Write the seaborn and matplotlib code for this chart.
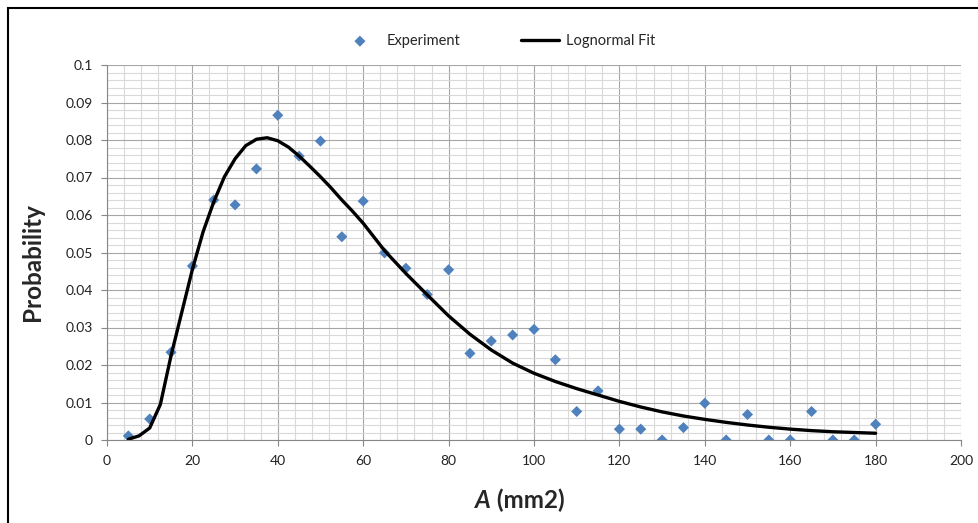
import numpy as np
import pandas as pd
import matplotlib.pyplot as plt
import seaborn as sns
from matplotlib.ticker import MultipleLocator
from matplotlib.patches import Rectangle

# dati
area_exp = [5, 10, 15, 20, 25, 30, 35, 40, 45, 50, 55, 60, 65, 70, 75, 80, 85, 90,
            95, 100, 105, 110, 115, 120, 125, 130, 135, 140, 145, 150, 155, 160,
            165, 170, 175, 180]
prob_exp = [0.0011, 0.0056, 0.0234, 0.0464, 0.0640, 0.0627, 0.0723, 0.0866, 0.0757,
            0.0797, 0.0542, 0.0637, 0.0499, 0.0458, 0.0388, 0.0454, 0.0231, 0.0264,
            0.0280, 0.0295, 0.0214, 0.0076, 0.0131, 0.0029, 0.0029, 0.0, 0.0033,
            0.0098, 0.0, 0.0068, 0.0, 0.0, 0.0076, 0.0, 0.0, 0.0042]

area_fit = [5, 7.5, 10, 12.5, 15, 17.5, 20, 22.5, 25, 27.5, 30, 32.5, 35, 37.5, 40,
            42.5, 45, 47.5, 50, 52.5, 55, 57.5, 60, 65, 70, 75, 80, 85, 90, 95, 100,
            105, 110, 115, 120, 125, 130, 135, 140, 145, 150, 155, 160, 165, 170,
            175, 180]
prob_fit = [0.0002, 0.0011, 0.0032, 0.0095, 0.0225, 0.0340, 0.0455, 0.0555, 0.0635,
            0.0702, 0.0750, 0.0785, 0.0802, 0.0806, 0.0798, 0.0781, 0.0757, 0.0730,
            0.0702, 0.0672, 0.0640, 0.0610, 0.0578, 0.0505, 0.0444, 0.0387, 0.0331,
            0.0282, 0.0240, 0.0205, 0.0178, 0.0156, 0.0137, 0.0120, 0.0103, 0.0088,
            0.0075, 0.0064, 0.0055, 0.0047, 0.0040, 0.0034, 0.0029, 0.0025, 0.0022,
            0.0020, 0.0018]

df_exp = pd.DataFrame({"A": area_exp, "P": prob_exp})
df_fit = pd.DataFrame({"A": area_fit, "P": prob_fit})

sns.set_style("white")
plt.rcParams["font.family"] = ["Lato", "DejaVu Sans"]

fig = plt.figure(figsize=(9.79, 5.23), dpi=100)
ax = fig.add_axes([107 / 979, 1 - 440 / 523, (961 - 107) / 979, (440 - 65) / 523])

# griglia stile Excel
ax.xaxis.set_major_locator(MultipleLocator(20))
ax.xaxis.set_minor_locator(MultipleLocator(4))
ax.yaxis.set_major_locator(MultipleLocator(0.01))
ax.yaxis.set_minor_locator(MultipleLocator(0.002))
ax.grid(which="minor", color="#d9d9d9", linewidth=0.8)
ax.grid(which="major", color="#a6a6a6", linewidth=0.8)
ax.set_axisbelow(True)

sns.scatterplot(data=df_exp, x="A", y="P", marker="D", s=32, color="#4f81bd",
                edgecolor="none", ax=ax, label="Experiment", zorder=3)
sns.lineplot(data=df_fit, x="A", y="P", sort=False, estimator=None, color="black",
             linewidth=2.4, ax=ax, label="Lognormal Fit", zorder=4)

ax.set_xlim(0, 200)
ax.set_ylim(0, 0.1)
ax.set_xlabel("")
ax.set_ylabel("")

for s in ["top", "right"]:
    ax.spines[s].set_visible(False)
for s in ["left", "bottom"]:
    ax.spines[s].set_color("#868686")
    ax.spines[s].set_linewidth(0.8)

ax.tick_params(which="major", direction="out", length=4, width=0.8, color="#868686",
               labelsize=10, labelcolor="#222222", bottom=True, left=True)
ax.tick_params(axis="y", pad=6)
ax.tick_params(axis="x", pad=7)
ax.tick_params(which="minor", length=0)
ax.set_yticks(np.round(np.arange(0, 0.101, 0.01), 2))
ax.set_yticklabels(["0"] + [f"{v:g}" for v in np.round(np.arange(0.01, 0.101, 0.01), 2)])

ax.get_legend().remove()
handles, labels = ax.get_legend_handles_labels()
fig.legend(handles, labels, loc="center", bbox_to_anchor=(0.509, 1 - 41 / 523), ncol=2,
           frameon=False, fontsize=10.5, handlelength=2.6, columnspacing=4.2,
           handletextpad=0.5)

# etichette assi
fig.text(33 / 979, 1 - 262 / 523, "Probability", rotation=90, ha="center", va="center",
         fontsize=17.5, fontweight="bold")
fig.text(491 / 979, 1 - 500 / 523, "A", ha="right", va="center", fontsize=17.5,
         fontweight="bold", style="italic")
fig.text(491 / 979, 1 - 500 / 523, " (mm2)", ha="left", va="center", fontsize=17.5,
         fontweight="bold")

# cornice esterna
fig.patches.append(Rectangle((8 / 979, -0.1), 1.2, 1.1 - 8 / 523,
                             transform=fig.transFigure, fill=False,
                             edgecolor="black", linewidth=1.5))

fig.savefig("out.png", dpi=100)
